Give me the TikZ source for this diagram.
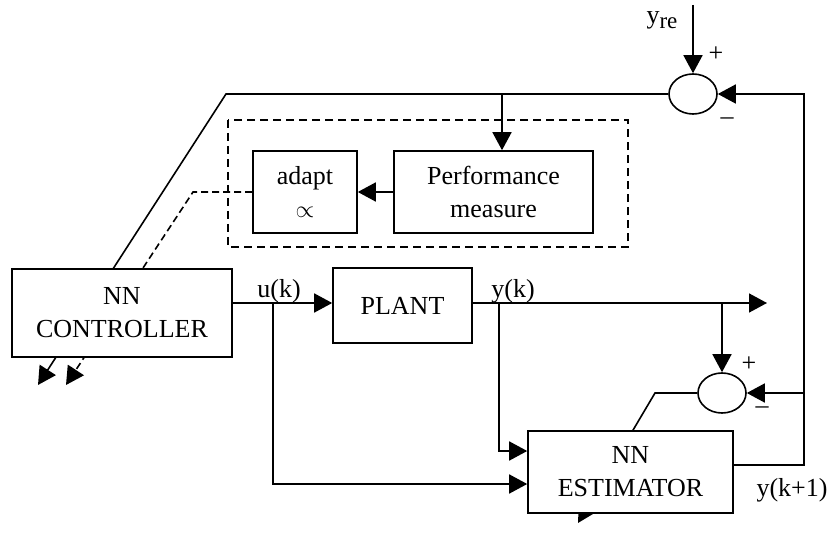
\documentclass[tikz,border=0pt]{standalone}
\usepackage{fontspec}
\setmainfont{Liberation Serif}
\usepackage{tikz}
\usetikzlibrary{arrows.meta,shapes.geometric,positioning,backgrounds}
\tikzset{
  basic/.style = {draw, line width=0.8pt, fill=white, font=\fontsize{13}{16.5}\selectfont, align=center, inner sep=0pt},
  block/.style = {basic, rectangle},
  sum/.style   = {basic, ellipse, minimum width=24pt, minimum height=20pt},
  lbl/.style   = {font=\fontsize{13}{16.5}\selectfont, inner sep=1pt},
  frame/.style = {draw, line width=1pt, dash pattern=on 4pt off 2.5pt},
  wire/.style  = {line width=0.8pt, -{Triangle[length=9pt,width=9.5pt]}},
  adaptline/.style = {wire, dash pattern=on 3.5pt off 2pt}
}

\begin{document}
\begin{tikzpicture}[x=0.5pt, y=-0.5pt, line width=0.8pt,
  >={Triangle[length=9pt,width=9.5pt]}]
\useasboundingbox (0,0) rectangle (831,535);

% adaptation frame
\draw[frame] (228,120) rectangle (628,247);

% blocks
\node[block, minimum width=110pt, minimum height=44pt] (ctrl) at (122,313) {NN\\CONTROLLER};
\node[block, minimum width=69.5pt, minimum height=37.5pt] (plant) at (402.5,305.5) {PLANT};
\node[block, minimum width=52pt, minimum height=41pt] (adapt) at (305,192) {adapt\\$\propto$};
\node[block, minimum width=99.5pt, minimum height=41pt] (perf) at (493.5,192) {Performance\\measure};
\node[block, minimum width=102.5pt, minimum height=41pt] (est) at (630.5,472) {NN\\ESTIMATOR};

% summing junctions
\node[sum] (sum1) at (693,94) {};
\node[sum] (sum2) at (722,393) {};

% labels
\node[lbl] (yre) at (662,20) {y\raisebox{-0.45ex}{\fontsize{11.5}{12}\selectfont re}};
\node[lbl] (p1) at (716,54) {+};
\node[lbl] (m1) at (727,121) {–};
\node[lbl] (p2) at (749,364) {+};
\node[lbl] (m2) at (762,410) {–};
\node[lbl] (uklbl) at (279,291) {u(k)};
\node[lbl] (yklbl) at (513,291) {y(k)};
\node[lbl] (yk1lbl) at (792,490) {y(k+1)};

% junction points
\coordinate (ytop) at (693,5);
\coordinate (tl) at (226,94);
\coordinate (tap) at (502,94);
\coordinate (cend) at (38,385);
\coordinate (dbend) at (193,192);
\coordinate (dend) at (66,385);
\coordinate (uk) at (273,303);
\coordinate (yk) at (499,303);
\coordinate (yk2) at (722,303);
\coordinate (yend) at (767,303);
\coordinate (fbr) at (804,465);
\coordinate (sbend) at (655,393);
\coordinate (eend) at (578,523);

% signal paths
\draw[->] (ytop) -- (sum1.north);
\draw[->] (tap) -- (tap |- perf.north);
\draw[->] (perf.west) -- (adapt.east);
\draw[->] (ctrl.east |- uk) -- (plant.west |- uk);
\draw[->] (plant.east |- yk) -- (yend);
\draw[->] (uk) |- ([yshift=-6pt]est.west);
\draw[->] (yk) |- ([yshift=10.5pt]est.west);
\draw[->] (yk2) -- (sum2.north);
\draw[->] ([yshift=3.5pt]est.east) -- (fbr) |- (sum1.east);
\draw[->] (fbr |- sum2.east) -- (sum2.east);

% adaptation paths, crossing the blocks
\begin{scope}[on background layer]
\draw[wire] (sum1.west) -- (tl) -- (cend);
\draw[adaptline] (adapt.west) -- (dbend) -- (dend);
\draw[wire] (sum2.west) -- (sbend) -- (eend);
\end{scope}
\end{tikzpicture}
\end{document}
